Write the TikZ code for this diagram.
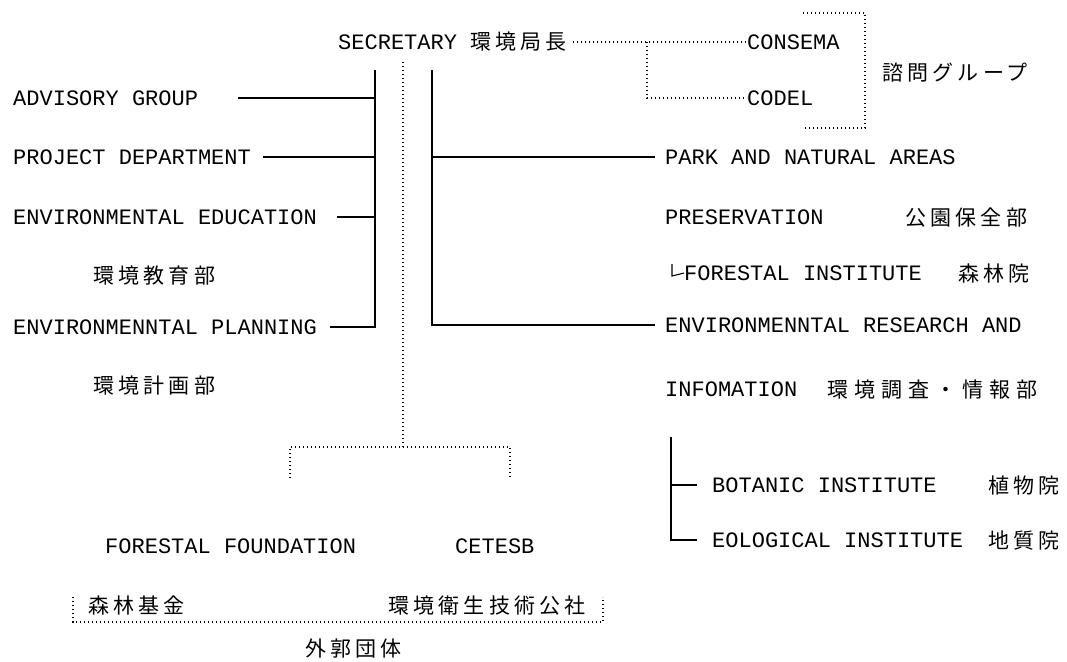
\documentclass[tikz,border=0pt]{standalone}
\usepackage{fontspec}
\newfontfamily\mono{Liberation Mono}
\newfontfamily\cjk[LetterSpace=20]{Noto Sans CJK JP}
\newfontfamily\cjkwide[LetterSpace=29]{Noto Sans CJK JP}
\tikzset{
  lat/.style={anchor=west, inner sep=0pt, font=\mono\fontsize{22}{22}\selectfont, text height=15pt, text depth=0pt},
  jp/.style={anchor=west, inner sep=0pt, font=\cjk\fontsize{21}{21}\selectfont, text height=16pt, text depth=0pt},
  jpw/.style={jp, font=\cjkwide\fontsize{21}{21}\selectfont},
  tree/.style={line width=1.3pt},
  dots/.style={line width=1.3pt, dash pattern=on 1.3pt off 2.7pt},
}
\begin{document}
\begin{tikzpicture}[x=1pt,y=-1pt]
\useasboundingbox[fill=white] (0,0) rectangle (1067,661);
% top
\node[lat] (sec) at (338,42) {SECRETARY {\cjk\fontsize{21}{21}\selectfont 環境局長}};
\node[lat] (consema) at (747,42) {CONSEMA};
\node[lat] (codel) at (747,98) {CODEL};
\node[jp] (shimon) at (882,72) {諮問グループ};
\coordinate (br) at (647,42);
\draw[dots] ([xshift=6pt]sec.east) -- (consema.west);
\draw[dots] (br) |- (codel.west);
\coordinate (gt) at (803,13);
\coordinate (gb) at (865,128);
\draw[dots] (gt) -| (gb) -- (gb -| gt);
% left column
\node[lat] (adv) at (13,98) {ADVISORY GROUP};
\node[lat] (proj) at (13,157) {PROJECT DEPARTMENT};
\node[lat] (eedu) at (13,217) {ENVIRONMENTAL EDUCATION};
\node[jp] (eeduj) at (93,275) {環境教育部};
\node[lat] (plan) at (13,327) {ENVIRONMENNTAL PLANNING};
\node[jp] (planj) at (93,385) {環境計画部};
\coordinate (lbt) at (375,70);
\draw[tree] (lbt) -- (lbt |- plan) -- ([xshift=13pt]plan.east);
\draw[tree] ([xshift=40pt]adv.east) -- (lbt |- adv);
\draw[tree] ([xshift=12pt]proj.east) -- (lbt |- proj);
\draw[tree] ([xshift=20pt]eedu.east) -- (lbt |- eedu);
% right column
\node[lat] (park) at (665,157) {PARK AND NATURAL AREAS};
\node[lat] (pres) at (665,217) {PRESERVATION};
\node[jp] (presj) at (905,217) {公園保全部};
\node[lat] (finst) at (684,273) {FORESTAL INSTITUTE};
\node[jp] (finstj) at (958,273) {森林院};
\draw[line width=1.1pt] (672,264) -- (672,276) -- (finst.west);
\node[lat] (eres) at (665,325) {ENVIRONMENNTAL RESEARCH AND};
\node[lat] (info) at (665,389) {INFOMATION};
\node[jpw] (infoj) at (827,389) {環境調査・情報部};
\coordinate (rbt) at (432,70);
\draw[tree] (rbt) |- ([xshift=-10pt]eres.west);
\draw[tree] (rbt |- park) -- ([xshift=-10pt]park.west);
% sub tree
\node[lat] (bot) at (712,485) {BOTANIC INSTITUTE};
\node[jp] (botj) at (988,485) {植物院};
\node[lat] (eol) at (712,540) {EOLOGICAL INSTITUTE};
\node[jp] (eolj) at (988,540) {地質院};
\coordinate (st) at (671,437);
\draw[tree] (st) |- ([xshift=-15pt]eol.west);
\draw[tree] (st |- bot) -- ([xshift=-15pt]bot.west);
% centre dotted
\coordinate (ct) at (403,62);
\coordinate (cb) at (403,447);
\draw[dots] (ct) -- (cb);
\coordinate (fl) at (290,478);
\coordinate (fr) at (510,478);
\draw[dots] (fl) |- (cb) -| (fr);
\node[lat] (ffound) at (105,546) {FORESTAL FOUNDATION};
\node[lat] (cetesb) at (455,546) {CETESB};
\node[jp] (ffoundj) at (88,605) {森林基金};
\node[jp] (cetesbj) at (388,605) {環境衛生技術公社};
\coordinate (ol) at (73,597);
\coordinate (or) at (603,622);
\draw[dots] (ol) |- (or) -- (or |- ol);
\node[jp] (gaikaku) at (305,648) {外郭団体};
\end{tikzpicture}
\end{document}
